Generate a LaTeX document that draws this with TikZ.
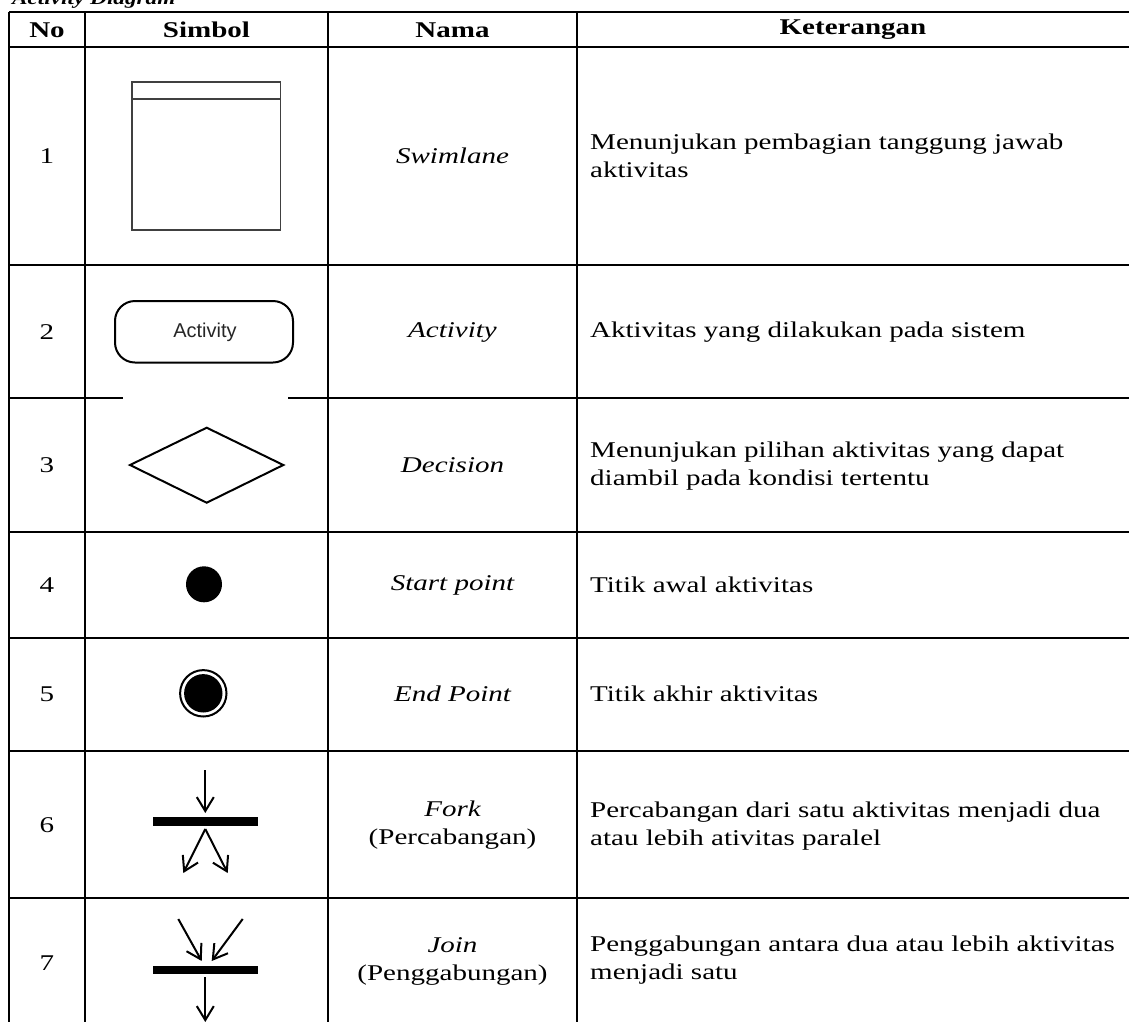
\documentclass[tikz,border=0pt]{standalone}
\usepackage{fontspec}
\setmainfont{Liberation Serif}[FakeStretch=1.29]
\setsansfont{Liberation Sans}
\usetikzlibrary{arrows.meta}
\begin{document}
\begin{tikzpicture}[x=1pt,y=-1pt,
  grid/.style={line width=2.6pt},
  txt/.style={font=\fontsize{22.5}{28}\selectfont, inner sep=0pt},
  head/.style={txt, font=\fontsize{22.5}{28}\selectfont\bfseries},
  body/.style={txt, anchor=west, align=left},
  nama/.style={txt, align=center},
  sym/.style={line width=2pt, black},
  arr/.style={sym, -{Straight Barb[length=14pt,width=17pt,line width=2pt]}},
  bar/.style={fill=black, draw=none}
]
\useasboundingbox (0,0) rectangle (1129,1021);
\clip (0,0) rectangle (1129,1021);
% title (cut off at top)
\node[txt, anchor=base west, font=\fontsize{18}{24}\selectfont\bfseries\itshape] (title) at (12,4) {Activity Diagram};
% grid
\foreach \y in {12,47,265,532,638,751,898} \draw[grid] (9,\y) -- (1135,\y);
\draw[grid] (9,398) -- (123,398);
\draw[grid] (288,398) -- (1135,398);
\foreach \x in {9,85,328,577} \draw[grid] (\x,12) -- (\x,1030);
% header
\node[head] (hno) at (47,30) {No};
\node[head] (hsim) at (206.5,30) {Simbol};
\node[head] (hnama) at (452.5,30) {Nama};
\node[head] (hket) at (853,30) {Keterangan};
% numbers
\node[txt] (n1) at (47,156) {1};
\node[txt] (n2) at (47,332) {2};
\node[txt] (n3) at (47,465) {3};
\node[txt] (n4) at (47,585) {4};
\node[txt] (n5) at (47,694) {5};
\node[txt] (n6) at (47,825) {6};
\node[txt] (n7) at (47,963) {7};
% nama
\node[nama] (m1) at (452.5,156) {\itshape Swimlane};
\node[nama] (m2) at (452.5,332) {\itshape Activity};
\node[nama] (m3) at (452.5,465) {\itshape Decision};
\node[nama] (m4) at (452.5,585) {\itshape Start point};
\node[nama] (m5) at (452.5,694) {\itshape End Point};
\node[nama] (m6) at (452.5,825) {\itshape Fork\\(Percabangan)};
\node[nama] (m7) at (452.5,961) {\itshape Join\\(Penggabungan)};
% keterangan
\node[body] (k1) at (590,156) {Menunjukan pembagian tanggung jawab\\aktivitas};
\node[body] (k2) at (590,332) {Aktivitas yang dilakukan pada sistem};
\node[body] (k3) at (590,466) {Menunjukan pilihan aktivitas yang dapat\\diambil pada kondisi tertentu};
\node[body] (k4) at (590,585) {Titik awal aktivitas};
\node[body] (k5) at (590,694) {Titik akhir aktivitas};
\node[body] (k6) at (590,826) {Percabangan dari satu aktivitas menjadi dua\\atau lebih ativitas paralel};
\node[body] (k7) at (590,960) {Penggabungan antara dua atau lebih aktivitas\\menjadi satu};
% 1 swimlane
\draw[line width=1.6pt, black!75] (131.7,81.7) rectangle (280.3,230);
\draw[line width=1.6pt, black!75] (131.7,99) -- (280.3,99);
% 2 activity
\draw[sym, rounded corners=20pt] (115,301) rectangle (293,362.5);
\node[inner sep=0pt, font=\sffamily\fontsize{20}{22}\selectfont, text=black!85] (act) at (205,332) {Activity};
% 3 decision
\draw[sym, line join=miter] (130,465) -- (206.7,427.7) -- (283.3,465) -- (206.7,502.7) -- cycle;
% 4 start
\fill (204,584.3) circle (18);
% 5 end
\draw[line width=2pt] (203.3,693.3) circle (23.2);
\fill (203.3,693.3) circle (19.2);
% 6 fork
\coordinate (f0) at (205.3,770);
\coordinate (f1) at (205.3,813);
\fill[bar] (153.3,817.3) rectangle (257.7,826);
\coordinate (f2) at (205.3,829);
\coordinate (fl) at (183.3,873);
\coordinate (fr) at (227.7,873);
\draw[arr] (f0) -- (f1);
\draw[arr] (f2) -- (fl);
\draw[arr] (f2) -- (fr);
% 7 join
\coordinate (j1) at (178.3,919);
\coordinate (j2) at (242.7,919);
\coordinate (jl) at (201.7,961);
\coordinate (jr) at (211.7,961);
\draw[arr] (j1) -- (jl);
\draw[arr] (j2) -- (jr);
\fill[bar] (153.3,966) rectangle (257.7,974.3);
\coordinate (j3) at (205.3,977.3);
\coordinate (j4) at (205.3,1022);
\draw[arr] (j3) -- (j4);
\end{tikzpicture}
\end{document}
